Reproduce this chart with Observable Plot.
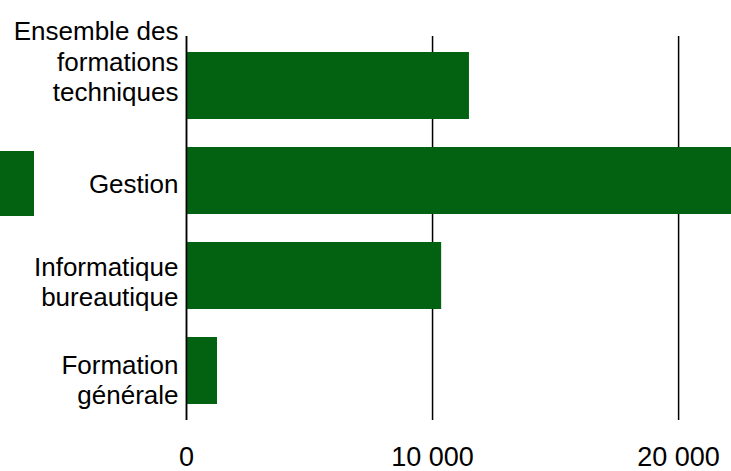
<!DOCTYPE html>
<html><head><meta charset="utf-8">
<script src="https://cdn.jsdelivr.net/npm/d3@7"></script>
<script src="https://cdn.jsdelivr.net/npm/@observablehq/plot@0.6"></script>
<style>
body{margin:0;overflow:hidden;background:#fff;font-family:"Liberation Sans",Arial,sans-serif;}
#wrap{position:relative;width:731px;height:471px;overflow:hidden;}
#wrap svg{display:block;}
#swatch{position:absolute;left:0;top:151px;width:34px;height:65px;background:#036211;}
</style></head><body><div id="wrap"><div id="swatch"></div></div>
<script>
const categories = ["Ensemble des formations techniques","Gestion","Informatique bureautique","Formation générale"];
const labels = ["Ensemble des\nformations\ntechniques","Gestion","Informatique\nbureautique","Formation\ngénérale"];
const values = [11500, 22600, 10370, 1260];
const xTicks = [0, 10000, 20000];
const xMax = 22150;

const data = categories.map((c, i) => ({category: c, label: labels[i], value: values[i]}));
const labelDy = [-25, 2, 5, 8];
const fmt = d => d3.format(",")(d).replace(/,/g, "\u00a0");
const green = "#036211";

const chart = Plot.plot({
  width: 731, height: 471,
  marginLeft: 186, marginRight: 0, marginTop: 36, marginBottom: 51,
  style: {fontFamily: '"Liberation Sans", Arial, sans-serif', fontSize: "26px", color: "#000", background: "transparent"},
  x: {domain: [0, xMax], axis: null, label: null},
  y: {domain: categories, paddingInner: 0.3, paddingOuter: 0.165, axis: null, label: null},
  marks: [
    Plot.ruleX(xTicks, {stroke: "#000", strokeWidth: 1.5}),
    Plot.barX(data, {x: "value", y: "category", fill: green, clip: true}),
    Plot.ruleX([0], {stroke: "#000", strokeWidth: 1.5}),
    Plot.axisX(xTicks, {tickSize: 0, tickPadding: 26, fontSize: 27, tickFormat: fmt, label: null}),
    ...data.map((d, i) => Plot.text([d], {
      y: "category", text: "label", frameAnchor: "left", textAnchor: "end",
      dx: -8, dy: labelDy[i], lineAnchor: "middle", lineHeight: 1.17, fontSize: 26, fill: "#000"
    }))
  ]
});
document.getElementById("wrap").prepend(chart);
</script>
</body></html>
